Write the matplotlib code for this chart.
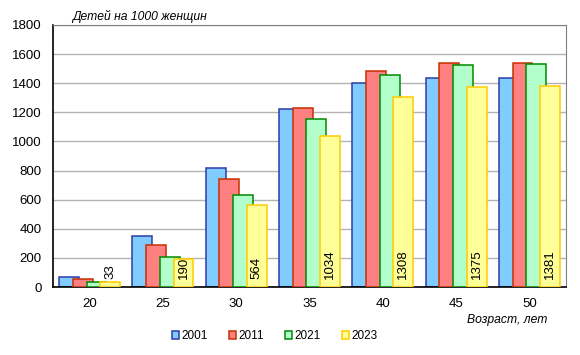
import matplotlib
matplotlib.use("Agg")
import matplotlib.pyplot as plt
from matplotlib.patches import Patch
import numpy as np

plt.rcParams['font.family'] = ['Liberation Sans', 'DejaVu Sans']

# Data
ages = ['20', '25', '30', '35', '40', '45', '50']
years = ['2001', '2011', '2021', '2023']
v2001 = [67, 348, 815, 1222, 1399, 1433, 1433]
v2011 = [55, 286, 742, 1227, 1483, 1538, 1538]
v2021 = [34, 204, 630, 1151, 1454, 1522, 1531]
v2023 = [33, 190, 564, 1034, 1308, 1375, 1381]
series = [v2001, v2011, v2021, v2023]

fills = ['#80CCFF', '#FF8080', '#B3FFCC', '#FFFF99']
edges = ['#2E3BA8', '#C83000', '#008A00', '#FFCC00']

fig = plt.figure(figsize=(5.8, 3.55), dpi=100)
ax = fig.add_axes([0.0914, 0.1915, 0.8845, 0.7381])

x = np.arange(len(ages))
step = 0.187
width = 0.27
for i, vals in enumerate(series):
    ax.bar(x + (i - 1.5) * step, vals, width, color=fills[i],
           edgecolor=edges[i], linewidth=1.1, zorder=2 + i)

# labels for 2023
for xi, v in zip(x, v2023):
    ax.text(xi + 1.5 * step, 52, str(v), rotation=90, ha='center',
            va='bottom', fontsize=9.5, zorder=10)

ax.set_xlim(-0.5, 6.5)
ax.set_ylim(0, 1800)
ax.set_yticks(range(0, 1801, 200))
ax.set_xticks(x)
ax.set_xticklabels(ages)
ax.tick_params(axis='both', length=0, labelsize=9.5)
ax.tick_params(axis='x', pad=8)
ax.tick_params(axis='y', pad=8)
ax.yaxis.grid(True, color='#B4B4B4', linewidth=1)
ax.set_axisbelow(True)
for s in ['top', 'right']:
    ax.spines[s].set_color('#808080')
for s in ['left', 'bottom']:
    ax.spines[s].set_color('black')
    ax.spines[s].set_linewidth(1.2)

fig.text(0.124, 0.955, 'Детей на 1000 женщин', style='italic', fontsize=8.7,
         ha='left', va='center')
fig.text(0.943, 0.098, 'Возраст, лет', style='italic', fontsize=8.7,
         ha='right', va='center')

handles = [Patch(facecolor=fills[i], edgecolor=edges[i], linewidth=1.1)
           for i in range(4)]
fig.legend(handles, years, loc='center', bbox_to_anchor=(0.474, 0.053),
           ncol=4, frameon=False, fontsize=8.5, handlelength=0.6,
           handleheight=0.6, handletextpad=0.2, columnspacing=1.8)

fig.savefig('out.png', dpi=100)
